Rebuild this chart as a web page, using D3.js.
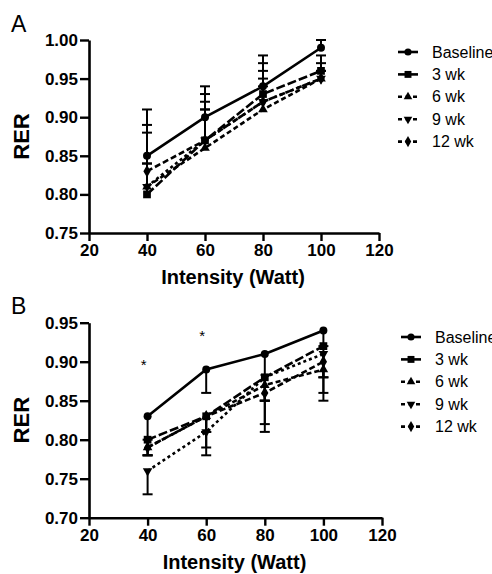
<!DOCTYPE html>
<html>
<head>
<meta charset="utf-8">
<script src="https://cdn.jsdelivr.net/npm/d3@7"></script>
<style>
  body { margin: 0; background: #fff; }
  svg { display: block; font-family: Arial, "Liberation Sans", sans-serif; }
</style>
</head>
<body>
<div id="chart"></div>
<script>
var intensity = [40, 60, 80, 100];
var seriesNames = ["Baseline", "3 wk", "6 wk", "9 wk", "12 wk"];
var xTicks = [20, 40, 60, 80, 100, 120];
var yTicksA = [0.75, 0.80, 0.85, 0.90, 0.95, 1.00];
var yTicksB = [0.70, 0.75, 0.80, 0.85, 0.90, 0.95];

// panel A : means and upper SE
var rerA = [
  [0.85, 0.90, 0.94, 0.99],
  [0.80, 0.87, 0.93, 0.96],
  [0.81, 0.86, 0.91, 0.95],
  [0.81, 0.87, 0.92, 0.95],
  [0.83, 0.87, 0.92, 0.95]
];
var errA = [
  [0.06, 0.04, 0.02, 0.01],
  [0.08, 0.06, 0.05, 0.02],
  [0.08, 0.06, 0.06, 0.02],
  [0.03, 0.04, 0.03, 0.01],
  [0.01, 0.04, 0.02, 0.01]
];
// panel B : means and lower SE
var rerB = [
  [0.83, 0.89, 0.91, 0.94],
  [0.80, 0.83, 0.88, 0.92],
  [0.79, 0.83, 0.87, 0.89],
  [0.76, 0.81, 0.88, 0.91],
  [0.79, 0.83, 0.86, 0.90]
];
var errB = [
  [0.03, 0.03, 0.06, 0.02],
  [0.02, 0.04, 0.06, 0.06],
  [0.01, 0.02, 0.02, 0.01],
  [0.03, 0.03, 0.07, 0.06],
  [0.01, 0.02, 0.01, 0.02]
];
// significance marks in B
var starX = [40, 60];
var starY = [0.90, 0.937];

var width = 492, height = 574;
var dashes = [null, "9,3", "5,3", "3,3", "6,3"];
var symbols = [d3.symbolCircle, d3.symbolSquare, d3.symbolTriangle, d3.symbolTriangle, d3.symbolDiamond];
var symSize = [50, 60, 40, 40, 45];
var symRot = [0, 0, 0, 180, 0];

var svg = d3.select("#chart").append("svg")
  .attr("width", width).attr("height", height);

function panel(opt){
  var g = svg.append("g");
  var x = d3.scaleLinear().domain([20, 120]).range([opt.left, opt.right]);
  var y = d3.scaleLinear().domain([opt.yTicks[0], opt.yTicks[opt.yTicks.length-1]]).range([opt.bottom, opt.top]);

  var xAxis = g.append("g")
    .attr("transform", "translate(0," + opt.bottom + ")")
    .call(d3.axisBottom(x).tickValues(xTicks).tickSize(8).tickSizeOuter(0).tickPadding(3));
  var yAxis = g.append("g")
    .attr("transform", "translate(" + opt.left + ",0)")
    .call(d3.axisLeft(y).tickValues(opt.yTicks).tickFormat(d3.format(".2f")).tickSize(9).tickSizeOuter(0).tickPadding(2));
  [xAxis, yAxis].forEach(function(a){
    a.select(".domain").attr("stroke", "#000").attr("stroke-width", 2.6);
    a.selectAll(".tick line").attr("stroke", "#000").attr("stroke-width", 2.4);
    a.selectAll(".tick text").attr("fill", "#000").style("font-size", "17px").style("font-weight", "bold");
  });

  g.append("text")
    .attr("x", (opt.left + opt.right) / 2 - 1).attr("y", opt.bottom + 51)
    .attr("text-anchor", "middle")
    .style("font-size", "20px").style("font-weight", "bold")
    .text("Intensity (Watt)");
  g.append("text")
    .attr("transform", "translate(29," + ((opt.top + opt.bottom) / 2) + ") rotate(-90)")
    .attr("text-anchor", "middle")
    .style("font-size", "22px").style("font-weight", "bold")
    .text("RER");
  g.append("text")
    .attr("x", 11).attr("y", opt.labelY)
    .style("font-size", "23px")
    .text(opt.label);

  // error bars
  var sign = opt.up ? 1 : -1;
  opt.data.forEach(function(s, k){
    s.forEach(function(v, i){
      var e = v + sign * opt.err[k][i];
      g.append("line")
        .attr("x1", x(intensity[i])).attr("x2", x(intensity[i]))
        .attr("y1", y(v)).attr("y2", y(e))
        .attr("stroke", "#000").attr("stroke-width", 2);
      g.append("line")
        .attr("x1", x(intensity[i]) - 5).attr("x2", x(intensity[i]) + 5)
        .attr("y1", y(e)).attr("y2", y(e))
        .attr("stroke", "#000").attr("stroke-width", 2);
    });
  });

  var line = d3.line()
    .x(function(d, i){ return x(intensity[i]); })
    .y(function(d){ return y(d); });

  opt.data.forEach(function(s, k){
    g.append("path")
      .attr("d", line(s))
      .attr("fill", "none").attr("stroke", "#000")
      .attr("stroke-width", 2.6)
      .attr("stroke-dasharray", dashes[k]);
    g.selectAll(null).data(s).enter().append("path")
      .attr("d", d3.symbol().type(symbols[k]).size(symSize[k]))
      .attr("transform", function(d, i){ return "translate(" + x(intensity[i]) + "," + y(d) + ") rotate(" + symRot[k] + ")"; })
      .attr("fill", "#000");
  });

  // legend
  var lg = g.append("g").selectAll("g").data(seriesNames).enter().append("g")
    .attr("transform", function(d, i){ return "translate(" + opt.legX + "," + (opt.legY + i * 22.4) + ")"; });
  lg.append("line")
    .attr("x1", 0).attr("x2", 20).attr("y1", 0).attr("y2", 0)
    .attr("stroke", "#000").attr("stroke-width", 2.6)
    .attr("stroke-dasharray", function(d, i){ return i < 2 ? null : "4,3.5"; });
  lg.append("path")
    .attr("d", function(d, i){ return d3.symbol().type(symbols[i]).size(symSize[i] * 0.8)(); })
    .attr("transform", function(d, i){ return "translate(10,0) rotate(" + symRot[i] + ")"; })
    .attr("fill", "#000");
  lg.append("text")
    .attr("x", 34).attr("y", 5.5)
    .style("font-size", "16px")
    .text(function(d){ return d; });

  return {g: g, x: x, y: y};
}

panel({label: "A", labelY: 32, left: 89, right: 379, top: 40, bottom: 233,
       yTicks: yTicksA, data: rerA, err: errA, up: true, legX: 398, legY: 52});
var pb = panel({label: "B", labelY: 314, left: 89, right: 382, top: 322.7, bottom: 517.7,
       yTicks: yTicksB, data: rerB, err: errB, up: false, legX: 401, legY: 337});

pb.g.selectAll(".star").data(starX).enter().append("text")
  .attr("class", "star")
  .attr("x", function(d){ return pb.x(d) - 4; })
  .attr("y", function(d, i){ return pb.y(starY[i]) + 8; })
  .attr("text-anchor", "middle")
  .style("font-size", "15px")
  .text("*");
</script>
</body>
</html>
